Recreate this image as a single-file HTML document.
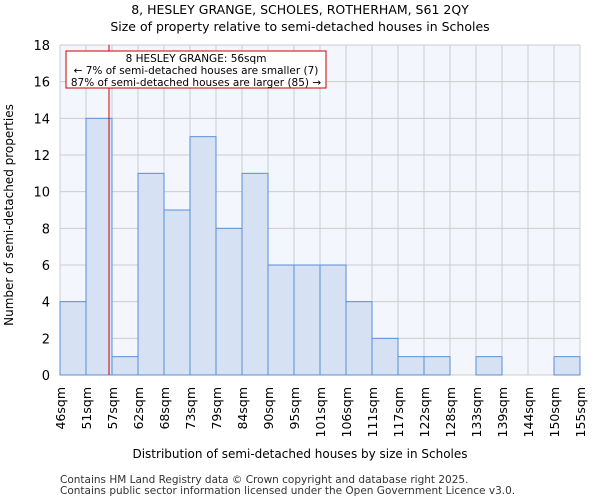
<!DOCTYPE html>
<html><head><meta charset="utf-8"><style>
body{margin:0;background:#fff;font-family:"DejaVu Sans","Liberation Sans",sans-serif}
</style></head><body>
<svg width="600" height="500" xmlns="http://www.w3.org/2000/svg" font-family="DejaVu Sans, Liberation Sans, sans-serif">
<text x="300" y="14" text-anchor="middle" font-size="12.5">8, HESLEY GRANGE, SCHOLES, ROTHERHAM, S61 2QY</text>
<text x="300" y="31" text-anchor="middle" font-size="12.5">Size of property relative to semi-detached houses in Scholes</text>
<rect x="60" y="45" width="520" height="330" fill="#f3f6fd"/>
<g id="grid"></g><g id="bars"></g><g id="axes"></g>
<line x1="109" y1="45" x2="109" y2="375" stroke="#cc0000" stroke-width="1"/>
<rect x="66" y="51" width="260" height="37" fill="#fff" stroke="#cc0000"/>
<text x="196" y="62" text-anchor="middle" font-size="10.5">8 HESLEY GRANGE: 56sqm</text>
<text x="196" y="74" text-anchor="middle" font-size="10.5">← 7% of semi-detached houses are smaller (7)</text>
<text x="196" y="86" text-anchor="middle" font-size="10.5">87% of semi-detached houses are larger (85) →</text>
<text x="300" y="458" text-anchor="middle" font-size="12">Distribution of semi-detached houses by size in Scholes</text>
<text transform="translate(13,215) rotate(-90)" text-anchor="middle" font-size="12">Number of semi-detached properties</text>
<text x="60" y="483" font-size="10.5" fill="#333">Contains HM Land Registry data © Crown copyright and database right 2025.</text>
<text x="60" y="494" font-size="10.5" fill="#333">Contains public sector information licensed under the Open Government Licence v3.0.</text>
</svg>
<script>
const categories=["46sqm","51sqm","57sqm","62sqm","68sqm","73sqm","79sqm","84sqm","90sqm","95sqm","101sqm","106sqm","111sqm","117sqm","122sqm","128sqm","133sqm","139sqm","144sqm","150sqm","155sqm"];
const counts=[4,14,1,11,9,13,8,11,6,6,6,4,2,1,1,0,1,0,0,1];
const yTicks=[0,2,4,6,8,10,12,14,16,18];
const NS="http://www.w3.org/2000/svg";
const x0=60,x1=580,y0=375,y1=45,yMax=18;
const bw=(x1-x0)/counts.length;
const xs=i=>x0+i*bw;
const ys=v=>y0-(v/yMax)*(y0-y1);
function mk(t,a,p){const e=document.createElementNS(NS,t);for(const k in a)e.setAttribute(k,a[k]);p.appendChild(e);return e;}
const grid=document.getElementById('grid'),bars=document.getElementById('bars'),axes=document.getElementById('axes');
yTicks.forEach(v=>{
 const l=mk('line',{x1:x0,x2:x1,y1:ys(v),y2:ys(v),stroke:'#ccc'},grid);
 
 
 const t=mk('text',{x:x0-10,y:ys(v)+5,'text-anchor':'end','font-size':'13'},axes);
 t.textContent=v;
 
 
});
categories.forEach((c,i)=>{
 const l=mk('line',{x1:xs(i),x2:xs(i),y1:y1,y2:y0,stroke:'#ccc'},grid);
 
 
 const t=mk('text',{transform:`translate(${xs(i)+5},387) rotate(-90)`,'text-anchor':'end','font-size':'12.5'},axes);
 t.textContent=c;
 
 
});
counts.forEach((v,i)=>{
 const r=mk('rect',{x:xs(i),y:ys(v),width:bw,height:y0-ys(v),fill:'#d6e1f3',stroke:'#5b8fd6','stroke-width':1},bars);
 
 
});
</script>
</body></html>
